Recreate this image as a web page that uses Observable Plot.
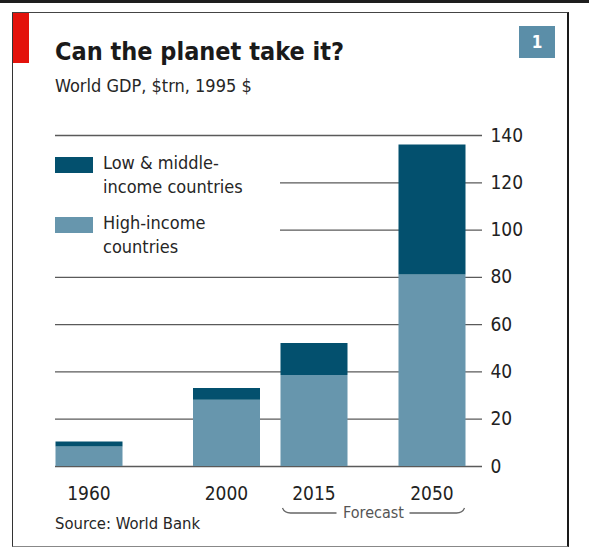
<!DOCTYPE html>
<html>
<head>
<meta charset="utf-8">
<script src="https://cdn.jsdelivr.net/npm/d3@7"></script>
<script src="https://cdn.jsdelivr.net/npm/@observablehq/plot@0.6"></script>
<style>
  html, body { margin: 0; padding: 0; background: #fff; }
  #wrap { position: relative; width: 589px; height: 547px; overflow: hidden; font-family: "DejaVu Sans Condensed", "DejaVu Sans", sans-serif; color: #1a1a1a; }
  .abs { position: absolute; }
  #topbar { left: 0; top: 0; width: 589px; height: 3px; background: #1e1e1e; }
  #frame { left: 12px; top: 12px; width: 554px; height: 533px; border-left: 1px solid #333; border-top: 1px solid #444; border-right: 2px solid #1a1a1a; border-bottom: 1px solid #888; }
  #red { left: 13px; top: 13px; width: 16px; height: 50px; background: #e3120b; }
  #title { left: 55px; top: 37px; font-size: 25px; font-weight: bold; white-space: nowrap; line-height: 29px; }
  #subtitle { left: 55px; top: 75px; font-size: 18px; white-space: nowrap; line-height: 22px; color: #262626; }
  #num { left: 519px; top: 26px; width: 36px; height: 32px; background: #5b8ea8; color: #fff; font-weight: bold; font-size: 17px; text-align: center; line-height: 32px; }
  #plot { left: 0; top: 120px; }
  #legend { left: 54px; top: 146px; width: 226px; height: 118px; background: #fff; }
  .sw { position: absolute; left: 1px; width: 38px; height: 16px; }
  .lt { position: absolute; left: 49px; font-size: 18px; line-height: 24px; white-space: nowrap; color: #262626; }
  #source { left: 55px; top: 514px; font-size: 16.5px; white-space: nowrap; color: #262626; line-height: 20px; }
  #bracket { left: 0; top: 495px; }
</style>
</head>
<body>
<div id="wrap">
  <div class="abs" id="topbar"></div>
  <div class="abs" id="frame"></div>
  <div class="abs" id="red"></div>
  <div class="abs" id="title">Can the planet take it?</div>
  <div class="abs" id="subtitle">World GDP, $trn, 1995 $</div>
  <div class="abs" id="num">1</div>
  <div class="abs" id="plot"></div>
  <div class="abs" id="legend"></div>
  <div class="abs" id="source">Source: World Bank</div>
  <svg class="abs" id="bracket" width="589" height="30"></svg>
</div>
<script>
// ---- data ----
const years = [1960, 2000, 2015, 2050];
const highIncome = [8.2, 28, 38.5, 81];
const lowMiddle = [2.2, 5, 13.5, 55];
const groups = ["High-income countries", "Low & middle-income countries"];
const groupColors = ["#6796ad", "#03506e"];
const yTicks = [0, 20, 40, 60, 80, 100, 120, 140];
const forecastLabel = "Forecast";

const data = [];
years.forEach((yr, i) => data.push({year: yr, group: groups[0], value: highIncome[i]}));
years.forEach((yr, i) => data.push({year: yr, group: groups[1], value: lowMiddle[i]}));

const chart = Plot.plot({
  width: 589,
  height: 427,
  marginTop: 15,
  marginBottom: 81,
  marginLeft: 55,
  marginRight: 107,
  style: {fontFamily: "'DejaVu Sans Condensed', 'DejaVu Sans', sans-serif", fontSize: "19px", color: "#222", background: "transparent", overflow: "visible"},
  x: {type: "linear", domain: years, range: [88.5, 226, 313.5, 431.5], label: null},
  y: {domain: [0, 140], ticks: yTicks, label: null},
  color: {domain: groups, range: groupColors},
  marks: [
    Plot.gridY(yTicks, {stroke: "#5a5a5a", strokeOpacity: 1, strokeWidth: 1.3}),
    Plot.ruleX(data, Plot.stackY({x: "year", y: "value", stroke: "group", strokeWidth: 67})),
    Plot.axisY(yTicks, {anchor: "right", tickSize: 0, tickPadding: 8, fontSize: 19, fill: "#222", label: null}),
    Plot.axisX(years, {anchor: "bottom", tickSize: 0, tickPadding: 20, tickFormat: d => String(d), fontSize: 19, fill: "#222", label: null})
  ]
});
document.getElementById("plot").appendChild(chart);

// legend (HTML, covers the gridlines behind it)
const leg = document.getElementById("legend");
const legRows = [
  {color: groupColors[1], lines: ["Low & middle-", "income countries"], top: 11},
  {color: groupColors[0], lines: ["High-income", "countries"], top: 71}
];
legRows.forEach(r => {
  const sw = document.createElement("div");
  sw.className = "sw"; sw.style.background = r.color; sw.style.top = r.top + "px";
  leg.appendChild(sw);
  r.lines.forEach((t, k) => {
    const d = document.createElement("div");
    d.className = "lt"; d.textContent = t; d.style.top = (r.top - 6 + k * 24) + "px";
    leg.appendChild(d);
  });
});

// forecast bracket under 2015-2050 bars
const sx = chart.scale("x");
const x0 = sx.apply(2015) - 31, x1 = sx.apply(2050) + 33, xm = (x0 + x1) / 2;
const b = d3.select("#bracket");
const yb = 18;
b.append("path").attr("d", `M${x0},${yb - 5} Q${x0 + 2},${yb} ${x0 + 8},${yb} L${xm - 37},${yb}`)
  .attr("fill", "none").attr("stroke", "#666").attr("stroke-width", 1.3);
b.append("path").attr("d", `M${xm + 36},${yb} L${x1 - 8},${yb} Q${x1 - 2},${yb} ${x1},${yb - 5}`)
  .attr("fill", "none").attr("stroke", "#666").attr("stroke-width", 1.3);
b.append("text").attr("x", xm).attr("y", yb + 5).attr("text-anchor", "middle")
  .attr("font-size", 16).attr("fill", "#555").attr("font-family", "'DejaVu Sans Condensed', sans-serif").text(forecastLabel);
</script>
</body>
</html>
